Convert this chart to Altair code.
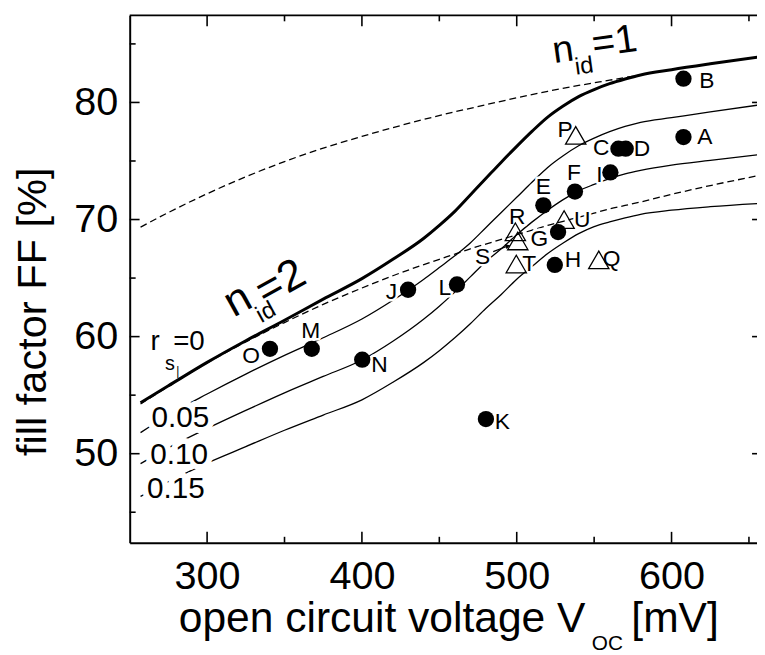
import altair as alt
import pandas as pd

FONT = "Liberation Sans"

# ---------------- data ----------------
VOC = [257, 275, 300, 325, 350, 375, 400, 420, 440, 450, 460, 470, 480, 490,
       500, 510, 520, 530, 540, 550, 560, 570, 580, 600, 625, 660]
FF_RS_000 = [54.35, 55.8, 57.8, 59.65, 61.4, 63.2, 64.95, 66.6, 68.4, 69.5, 70.7, 72.1, 73.5, 74.9,
             76.25, 77.55, 78.75, 79.7, 80.5, 81.1, 81.6, 82.0, 82.35, 82.8, 83.3, 83.95]
FF_RS_005 = [51.8, 53.3, 55.1, 56.8, 58.4, 59.9, 61.5, 63.1, 64.9, 65.9, 66.9, 68.0, 69.3, 70.6,
             71.9, 73.2, 74.45, 75.45, 76.3, 76.95, 77.5, 77.95, 78.3, 78.7, 79.2, 79.85]
FF_RS_010 = [49.15, 50.5, 52.15, 53.7, 55.2, 56.6, 58.0, 59.6, 61.5, 62.6, 63.8, 65.1, 66.4, 67.5,
             68.7, 69.8, 70.8, 71.7, 72.45, 73.0, 73.5, 73.9, 74.2, 74.65, 75.05, 75.6]
FF_RS_015 = [46.35, 47.6, 49.2, 50.6, 52.0, 53.3, 54.6, 56.1, 57.8, 58.8, 59.9, 61.1, 62.4, 63.6,
             64.9, 66.0, 67.1, 68.0, 68.8, 69.4, 69.8, 70.15, 70.45, 70.8, 71.1, 71.4]
FF_N2 = [54.25, 55.75, 57.75, 59.55, 61.2, 62.75, 64.15, 65.2, 66.15, 66.6, 67.05, 67.5, 67.9, 68.3,
         68.7, 69.1, 69.5, 69.85, 70.2, 70.55, 70.9, 71.2, 71.5, 72.15, 72.9, 73.85]
VOC_N1 = [257, 275, 300, 325, 350, 375, 400, 420, 440, 460, 480, 500, 520, 540, 560, 580]
FF_N1 = [69.35, 70.6, 72.2, 73.65, 74.95, 76.1, 77.1, 77.85, 78.55, 79.2, 79.8, 80.4, 80.95,
         81.45, 81.9, 82.35]

CIRCLE_IDS = ["A", "B", "C", "D", "E", "F", "G", "H", "I", "J", "K", "L", "M", "N", "O"]
CIRCLE_VOC = [607.7, 607.7, 565.7, 570.4, 517.2, 537.6, 526.7, 524.6, 560.5, 429.8, 480.1, 461.4,
              367.6, 400.2, 340.6]
CIRCLE_FF = [77.04, 82.03, 76.05, 76.05, 71.21, 72.39, 68.93, 66.12, 74.02, 64.0, 52.96, 64.45,
             58.96, 58.03, 58.96]

TRI_IDS = ["P", "Q", "R", "S", "T", "U"]
TRI_VOC = [538.1, 553.0, 499.1, 500.7, 499.7, 530.6]
TRI_FF = [77.19, 66.55, 68.95, 68.17, 66.2, 70.0]

S_ARROW_VOC = [484.8, 494.3]
S_ARROW_FF = [67.26, 67.74]

X_MAJOR = [300, 400, 500, 600]
X_MINOR = [350, 450, 550, 650]
Y_MAJOR = [50, 60, 70, 80]
Y_MINOR = [45, 55, 65, 75, 85]

# ---------------- layout ----------------
W, H = 634, 533
XS = alt.Scale(domain=[250, 655.2], nice=False, zero=False)
YS = alt.Scale(domain=[42.394, 87.437], nice=False, zero=False)
XAX = alt.Axis(values=X_MAJOR, title=None, grid=False, ticks=False, tickSize=0,
               labelFont=FONT, labelFontSize=40, labelColor="black", labelPadding=14,
               labelFlush=False, labelOverlap=False,
               domain=True, domainColor="black", domainWidth=2)
YAX = alt.Axis(values=Y_MAJOR, title=None, grid=False, ticks=False, tickSize=0,
               labelFont=FONT, labelFontSize=40, labelColor="black", labelPadding=12,
               labelFlush=False, labelOverlap=False,
               domain=True, domainColor="black", domainWidth=2)


def X(field="v"):
    return alt.X(f"{field}:Q", scale=XS, axis=XAX)


def Y(field="f"):
    return alt.Y(f"{field}:Q", scale=YS, axis=YAX)


ONE = pd.DataFrame({"k": [0]})
layers = []

# frame top line
layers.append(alt.Chart(ONE).mark_rule(color="black", strokeWidth=2).encode(
    x=alt.value(0), x2=alt.value(W), y=alt.value(0)))


def vticks(values, y0, y1):
    return alt.Chart(pd.DataFrame({"v": values})).mark_rule(color="black", strokeWidth=1.6).encode(
        x=X(), y=alt.value(y0), y2=alt.value(y1))


def hticks(values, x0, x1):
    return alt.Chart(pd.DataFrame({"f": values})).mark_rule(color="black", strokeWidth=1.6).encode(
        y=Y(), x=alt.value(x0), x2=alt.value(x1))


layers += [vticks(X_MAJOR, H, H - 11), vticks(X_MINOR, H, H - 6),
           vticks(X_MAJOR, 0, 11), vticks(X_MINOR, 0, 6),
           hticks(Y_MAJOR, 0, 10), hticks(Y_MINOR, 0, 6),
           hticks(Y_MAJOR, W, W - 5)]


def curve(xs, ys, width, dash=None):
    kw = dict(color="black", strokeWidth=width, interpolate="monotone", clip=True)
    if dash:
        kw["strokeDash"] = dash
    return alt.Chart(pd.DataFrame({"v": xs, "f": ys})).mark_line(**kw).encode(x=X(), y=Y())


layers += [curve(VOC_N1, FF_N1, 1.3, [7, 4]),
           curve(VOC, FF_N2, 1.3, [7, 4]),
           curve(VOC, FF_RS_005, 1.3),
           curve(VOC, FF_RS_010, 1.3),
           curve(VOC, FF_RS_015, 1.3),
           curve(VOC, FF_RS_000, 3)]


def dtext(txt, v, f, size, angle=0, align="left", halo=0, dx=0, dy=0):
    kw = dict(text=txt, font=FONT, fontSize=size, angle=angle, align=align,
              baseline="alphabetic", dx=dx, dy=dy)
    if halo:
        kw.update(color="white", stroke="white", strokeWidth=halo, strokeJoin="round")
    else:
        kw.update(color="black")
    return alt.Chart(pd.DataFrame({"v": [v], "f": [f]})).mark_text(**kw).encode(x=X(), y=Y())


# r_s curve labels (with white background cutting the curves)
RS_LABELS = [("0.05", 264.1, 52.28), ("0.10", 263.2, 49.15), ("0.15", 261.1, 46.20)]
for t, v, f in RS_LABELS:
    layers.append(dtext(t, v, f, 30, halo=12))

# point labels: dx, dy, align
LABEL_OFF = {
    "A": (14, 7, "left"), "B": (16, 9, "left"), "C": (-9, 6.5, "right"), "D": (8, 7, "left"),
    "E": (0, -11, "center"), "F": (-1, -12, "center"), "G": (-10, 14, "right"),
    "H": (10, 2, "left"), "I": (-8, 9.5, "right"), "J": (-11, 9, "right"),
    "K": (9, 10, "left"), "L": (-6, 11, "right"), "M": (-1, -11, "center"),
    "N": (9, 12, "left"), "O": (-10, 14, "right"), "P": (-3, 2, "right"),
    "Q": (4, 6, "left"), "R": (2, -7.5, "center"), "S": (-28, 23, "right"),
    "T": (6, 7, "left"), "U": (10, 8, "left"),
}
ALL_IDS = CIRCLE_IDS + TRI_IDS
ALL_VOC = CIRCLE_VOC + TRI_VOC
ALL_FF = CIRCLE_FF + TRI_FF
LABEL_SIZE = 23
for lab, v, f in zip(ALL_IDS, ALL_VOC, ALL_FF):
    dx, dy, al = LABEL_OFF[lab]
    layers.append(dtext(lab, v, f, LABEL_SIZE, align=al, halo=5, dx=dx, dy=dy))

# S arrow
layers.append(alt.Chart(pd.DataFrame({"v": S_ARROW_VOC, "f": S_ARROW_FF})).mark_line(
    color="black", strokeWidth=1.2).encode(x=X(), y=Y()))
layers.append(alt.Chart(pd.DataFrame({"v": [S_ARROW_VOC[1]], "f": [S_ARROW_FF[1]]})).mark_point(
    shape="triangle-right", filled=True, color="black", size=30, angle=339, opacity=1).encode(x=X(), y=Y()))

# markers
layers.append(alt.Chart(pd.DataFrame({"v": CIRCLE_VOC, "f": CIRCLE_FF})).mark_point(
    shape="circle", filled=True, color="black", size=272, opacity=1).encode(x=X(), y=Y()))
layers.append(alt.Chart(pd.DataFrame({"v": TRI_VOC, "f": TRI_FF})).mark_point(
    shape="triangle-up", filled=False, stroke="black", strokeWidth=1.3, size=420, opacity=1).encode(x=X(), y=Y()))

# label texts
for t, v, f in RS_LABELS:
    layers.append(dtext(t, v, f, 30))
for lab, v, f in zip(ALL_IDS, ALL_VOC, ALL_FF):
    dx, dy, al = LABEL_OFF[lab]
    layers.append(dtext(lab, v, f, LABEL_SIZE, align=al, dx=dx, dy=dy))

# annotations
layers += [
    dtext("r", 263.4, 58.87, 28),
    dtext("s", 272.8, 57.18, 20),
    dtext("=0", 278.1, 58.87, 28),
    dtext("|", 280.0, 56.76, 12),
    dtext("n", 317.1, 61.62, 44, angle=331),
    dtext("id", 335.0, 61.15, 24, angle=331),
    dtext("=2", 337.6, 62.59, 44, angle=331),
    dtext("n", 524.2, 83.38, 38, angle=352),
    dtext("id", 538.3, 82.37, 24, angle=352),
    dtext("=1", 549.8, 83.89, 40, angle=352),
]


# axis titles (pixel positions relative to the plot area)
def ptext(txt, px, py, size, angle=0, align="left"):
    return alt.Chart(ONE).mark_text(text=txt, font=FONT, fontSize=size, angle=angle, align=align,
                                    baseline="alphabetic", color="black").encode(
        x=alt.value(px), y=alt.value(py))


layers += [
    ptext("open circuit voltage V", 49.6, 623, 43),
    ptext("OC", 467, 641, 21),
    ptext("[mV]", 507, 623, 43),
    ptext("fill factor FF [%]", -84.3, 299.5, 42, angle=270, align="center"),
]

chart = alt.layer(*layers).properties(
    width=W, height=H,
    padding={"left": 123, "top": 4, "right": 0, "bottom": 110},
    autosize=alt.AutoSizeParams(type="none"),
).configure_view(stroke=None)

chart.save("out.html", embed_options={"renderer": "svg", "actions": False})
